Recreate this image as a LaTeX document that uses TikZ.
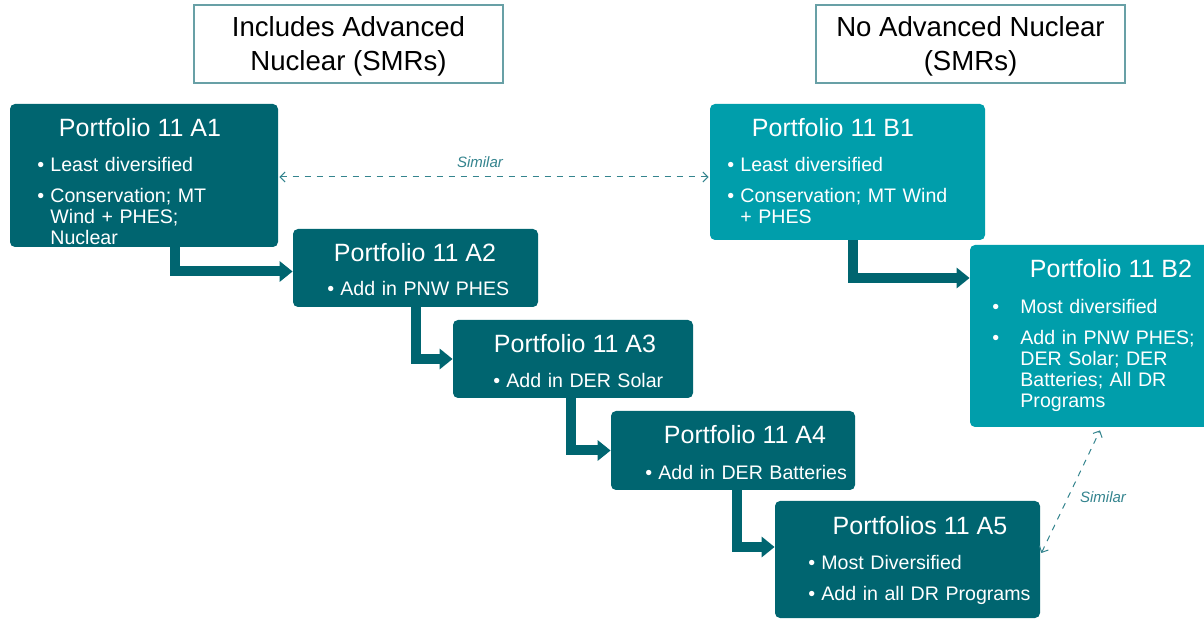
\documentclass[tikz,border=0pt]{standalone}
\usepackage{fontspec}
\setmainfont{Liberation Sans}
\usepackage{enumitem}
\usetikzlibrary{calc, arrows.meta}

\definecolor{darkteal}{RGB}{0,101,112}
\definecolor{lightteal}{RGB}{0,158,171}
\definecolor{headline}{RGB}{104,160,166}
\definecolor{simline}{RGB}{52,132,142}

\setlist[itemize]{label=\textbullet, align=left, leftmargin=6.5pt, labelwidth=6.5pt,
  labelsep=0pt, labelindent=0pt, topsep=0pt, partopsep=0pt, parsep=0pt, itemsep=5pt}

\begin{document}
\begin{tikzpicture}
    [
      x=0.5pt, y=-0.5pt,
      hbox/.style={draw=headline, line width=0.8pt, fill=white, align=center,
        font=\fontsize{13.8}{17}\selectfont, inner sep=0pt, text depth=0pt},
      pbox/.style={rounded corners=2.5pt, inner sep=0pt},
      abox/.style={pbox, fill=darkteal},
      bbox/.style={pbox, fill=lightteal},
      phead/.style={anchor=base, text=white, inner sep=0pt,
        font=\fontsize{12.5}{15}\selectfont},
      plist/.style={anchor=north west, text=white, inner sep=0pt, align=left,
        text width=125pt, font=\fontsize{9.8}{10.5}\selectfont},
      flow/.style={line width=5pt, darkteal, -{Triangle[length=6.5pt,width=10pt]}},
      sim/.style={simline, dashed, line width=0.5pt,
        {Straight Barb[length=2.5pt,width=5pt]}-{Straight Barb[length=2.5pt,width=5pt]}},
      simtxt/.style={simline, inner sep=0pt, font=\fontsize{7.5}{9}\selectfont\itshape}
    ]
    \useasboundingbox (0,0) rectangle (1204,619);
    \clip (0,0) rectangle (1204,619);
    % headers
    \node [hbox, minimum width=154.5pt, minimum height=39pt] (hl) at (348.5,44)
      {Includes Advanced\\Nuclear (SMRs)};
    \node [hbox, minimum width=154.5pt, minimum height=39pt] (hr) at (970.5,44)
      {No Advanced Nuclear\\(SMRs)};
    % portfolio boxes with advanced nuclear
    \node [abox, minimum width=134pt, minimum height=71.5pt] (a1) at (144,175.5) {};
    \node [abox, minimum width=122.5pt, minimum height=39pt] (a2) at (415.5,268) {};
    \node [abox, minimum width=120pt, minimum height=39pt] (a3) at (573,359) {};
    \node [abox, minimum width=122pt, minimum height=39.5pt] (a4) at (733,450.5) {};
    \node [abox, minimum width=132.5pt, minimum height=58.5pt] (a5) at (907.5,559.5) {};
    % portfolio boxes without
    \node [bbox, minimum width=137.5pt, minimum height=68pt] (b1) at (847.5,172) {};
    \node [bbox, minimum width=125pt, minimum height=91pt] (b2) at (1095,336) {};
    % headings
    \node [phead] (a1h) at (140,137) {Portfolio 11 A1};
    \node [phead] (a2h) at (415,262) {Portfolio 11 A2};
    \node [phead] (a3h) at (575,353) {Portfolio 11 A3};
    \node [phead] (a4h) at (745,444) {Portfolio 11 A4};
    \node [phead] (a5h) at (920,535) {Portfolios 11 A5};
    \node [phead] (b1h) at (833,137) {Portfolio 11 B1};
    \node [phead] (b2h) at (1111,278) {Portfolio 11 B2};
    % bullets
    \node [plist] (a1l) at (37,150) {\begin{itemize}
        \item Least diversified
        \item Conservation; MT\newline Wind + PHES;\newline Nuclear
      \end{itemize}};
    \node [plist] (a2l) at (327,274) {\begin{itemize}\item Add in PNW PHES\end{itemize}};
    \node [plist] (a3l) at (493,366) {\begin{itemize}\item Add in DER Solar\end{itemize}};
    \node [plist] (a4l) at (645,458) {\begin{itemize}\item Add in DER Batteries\end{itemize}};
    \node [plist] (a5l) at (808,548) {\begin{itemize}
        \item Most Diversified
        \item Add in all DR Programs
      \end{itemize}};
    \node [plist] (b1l) at (727,150) {\begin{itemize}
        \item Least diversified
        \item Conservation; MT Wind\newline + PHES
      \end{itemize}};
    \node [plist] (b2l) at (992,292) {\begin{itemize}[leftmargin=14pt, labelwidth=14pt]
        \item Most diversified
        \item Add in PNW PHES;\newline DER Solar; DER\newline Batteries; All DR\newline Programs
      \end{itemize}};
    % flow arrows
    \draw [flow] ($(a1.south)+(31,0)$) |- ($(a2.west)+(0,3.5)$);
    \draw [flow] (a2.south) |- (a3.west);
    \draw [flow] ($(a3.south)+(-2,0)$) |- (a4.west);
    \draw [flow] ($(a4.south)+(4,0)$) |- ($(a5.west)+(0,-12.5)$);
    \draw [flow] ($(b1.south)+(5.5,0)$) |- ($(b2.west)+(0,-58)$);
    % similar links
    \draw [sim] ($(a1.east)+(1,1.5)$) -- ($(b1.west |- a1.east)+(-1,1.5)$);
    \node [simtxt] (s1) at (480,162) {Similar};
    \draw [sim] ($(a5.east)+(1,-6.5)$) -- ($(b2.south)+(5,3)$);
    \node [simtxt] (s2) at (1103,497) {Similar};
\end{tikzpicture}
\end{document}
